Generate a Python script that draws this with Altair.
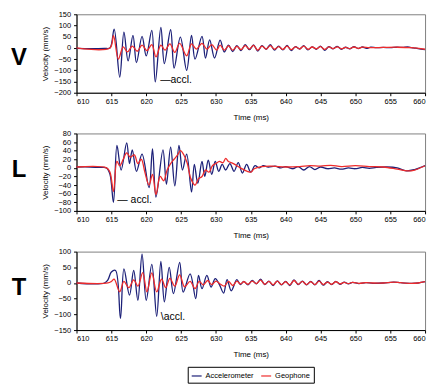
import altair as alt
import pandas as pd

SERIES = ["Accelerometer", "Geophone"]
COLORS = ["#1c2078", "#ee2b2b"]
X_TICKS = [610, 615, 620, 625, 630, 635, 640, 645, 650, 655, 660]

# ---------------- V panel ----------------
v_acc_t = [610, 612, 614, 614.8, 615.4, 616.2, 616.8, 617.4, 618.1, 618.6, 619.4, 620.0, 620.8, 621.3,
           622.1, 622.6, 623.5, 624.0, 624.9, 625.8, 626.5, 627.0, 628.0, 628.5, 629.1, 629.8, 630.6,
           631.2, 631.8, 632.4, 633.0, 633.6, 634.2, 634.8, 635.4, 636.0, 636.6, 637.2, 637.8, 638.4,
           639.0, 639.6, 640.2, 640.8, 641.4, 642.0, 642.6, 643.2, 643.8, 644.4, 645.0, 645.6, 646.2,
           646.8, 647.4, 648.0, 648.6, 649.2, 649.8, 650.4, 651.0, 651.6, 652.2, 653, 654, 655, 656,
           656.8, 657.5, 658.3, 659, 660]
v_acc_v = [-2, -3, -2, 0, 84, -130, 70, -58, 56, -66, 51, -36, 78, -152,
           91, -70, 81, -90, 48, -100, 56, -50, 51, -45, 36, -45, 35,
           -18, 12, -16, 10, -12, 15, -8, 13, -14, 10, -6, 14, -10,
           8, -9, 11, -12, 6, -5, 10, -9, 5, -6, 8, -11, 6,
           -4, 7, -6, 3, -4, 6, -3, 4, -2, 3, 1, 2, 1, 3,
           2, 4, 0, -3, -8]
v_geo_t = [610, 614.8, 615.3, 616.0, 616.7, 617.3, 618.0, 618.7, 619.4, 620.1, 620.8, 621.4, 622.1,
           622.7, 623.4, 624.1, 624.8, 625.8, 626.5, 627.2, 628.0, 628.7, 629.4, 630.1, 630.6,
           631.2, 631.8, 632.4, 633.0, 633.6, 634.2, 634.8, 635.4, 636.0, 636.6, 637.2, 637.8, 638.4,
           639.0, 639.6, 640.2, 640.8, 641.4, 642.0, 642.6, 643.2, 643.8, 644.4, 645.0, 645.6, 646.2,
           646.8, 647.4, 648.0, 648.6, 649.2, 649.8, 650.4, 651.0, 652, 654, 656, 658, 660]
v_geo_v = [0, 0, 55, -50, 5, -18, 8, -15, 12, -12, 15, -40, 12,
           -10, 18, -20, 20, -35, 18, -5, 20, -5, 15, -10, 12,
           -10, 9, -10, 7, -8, 10, -5, 11, -10, 8, -5, 10, -6,
           6, -7, 8, -8, 5, -4, 8, -6, 4, -4, 6, -7, 5,
           -3, 5, -4, 2, -3, 4, -2, 3, 1, 2, 3, 1, -6]

# ---------------- L panel ----------------
l_acc_t = [610, 612, 613.5, 614.3, 614.8, 615.3, 615.8, 616.4, 617.2, 617.6, 618.0, 618.6, 619.4,
           620.4, 620.9, 621.4, 622.4, 622.9, 623.5, 624.1, 624.7, 625.2, 625.8, 626.5, 626.9, 627.4,
           628.0, 628.4, 628.9, 629.4, 629.9, 630.4, 630.9, 631.4, 632.0, 632.6, 633.2, 633.8, 634.4,
           635.0, 635.6, 636.2, 636.8, 637.5, 638.5, 639.3, 640.0, 641.0, 641.8, 642.6, 643.4, 644.2,
           645.0, 646.0, 647.0, 648, 649, 650, 651, 652, 653, 654.5, 656, 657.3, 658.5, 659.5, 660]
l_acc_v = [2, 2, 1, 0, -15, -80, 52, -5, 58, 10, 42, -8, 32,
           -46, 44, -68, 42, -38, 48, -42, 52, -5, 32, -56, 8, -36,
           15, -20, 18, -15, 15, -8, 8, -5, 10, -8, 12, -12, 8,
           -10, 5, 0, 5, 2, 4, 0, 3, -2, 3, -5, 3, -4,
           2, -2, 0, -3, 0, -2, 1, -1, 1, 2, 0, -7, -4, 2, 5]
l_geo_t = [610, 614.3, 614.8, 615.3, 615.8, 616.2, 616.7, 617.2, 617.7, 618.3, 618.8, 619.3, 619.8,
           620.4, 620.9, 621.4, 622.0, 622.5, 623.0, 623.5, 624.0, 624.5, 624.9, 625.4, 625.9, 626.4,
           627.0, 627.5, 628.0, 628.5, 629.0, 629.5, 630.0, 630.5, 631.0, 631.4, 631.8, 632.5, 633.5,
           634.5, 635.0, 635.5, 636.5, 638, 640, 642, 643.5, 645, 646.5, 648, 650, 652, 654, 656,
           657.5, 658.5, 660]
l_geo_v = [2, 0, -10, -55, 15, 5, 20, 35, 25, 30, 10, 20, -10,
           -40, -15, -62, -20, -30, -5, 10, 20, 30, 40, 30, 10, -25,
           -40, -25, -20, -5, -10, 5, 10, 15, 12, 22, 15, 10, 0,
           -8, -10, -2, 3, 4, 2, 3, 5, 4, 6, 3, 5, 3, 2, -3,
           -7, -5, 5]

# ---------------- T panel ----------------
t_acc_t = [610, 614.0, 614.5, 615.0, 615.6, 616.3, 616.8, 617.6, 618.2, 618.8, 619.4, 620.0, 620.8,
           621.5, 622.1, 622.6, 623.3, 623.9, 624.8, 625.3, 626.3, 627.1, 627.5, 628.0, 628.7, 629.3,
           629.9, 630.5, 631.1, 631.6, 632.2, 633.0, 633.5, 634.0, 634.6, 635.2, 635.8, 636.4, 637.0,
           637.6, 638.2, 638.8, 639.4, 640.0, 640.6, 641.2, 641.8, 642.4, 643.0, 643.6, 644.2, 644.8,
           645.4, 646.0, 646.6, 647.2, 647.8, 648.4, 649.0, 649.6, 650.5, 651.5, 652.5, 654, 655.5,
           656.5, 658, 659, 660]
t_acc_v = [0, 0, 10, 35, 40, -113, 45, -39, 40, -55, 92, -55, 59,
           -106, 69, -60, 50, -34, 66, -29, 29, -50, 24, -18, 24, -13,
           14, -5, -32, 11, -25, 11, -5, 5, -6, 8, -3, 12, -5,
           6, -8, 7, -6, 5, -8, 10, -5, 6, -6, 5, -6, 8,
           -7, 4, -5, 5, -4, 3, -3, 2, -2, 1, -1, 0, 3,
           1, -1, 0, 4]
t_geo_t = [610, 614.5, 615.0, 615.4, 616.2, 616.8, 617.5, 618.2, 618.8, 619.5, 620.1, 620.8, 621.5,
           622.2, 622.8, 623.4, 624.1, 624.8, 625.5, 626.3, 627.0, 627.6, 628.2, 628.8, 629.4, 630.0,
           630.6, 631.2, 631.8, 632.4, 633.0, 633.5, 634.0, 634.6, 635.2, 635.8, 636.4, 637.0, 637.6,
           638.2, 638.8, 639.4, 640.0, 640.6, 641.2, 641.8, 642.4, 643.0, 643.6, 644.2, 644.8, 645.4,
           646.0, 646.6, 647.2, 647.8, 648.4, 649.0, 649.6, 650.5, 651.5, 652.5, 654, 655.5, 656.5,
           658, 659, 660]
t_geo_v = [0, 0, 5, 12, -28, 5, -15, 10, -10, 33, -28, 32, -28,
           12, -15, 15, -10, 26, -12, 5, -18, 5, -6, 8, -5, 6,
           -3, -10, 5, -8, 6, -3, 4, -4, 6, -2, 9, -4, 5,
           -6, 6, -5, 4, -6, 8, -4, 5, -5, 4, -5, 6, -5,
           3, -4, 4, -3, 2, -2, 2, -1, 1, 0, 0, 3, 1,
           -1, 0, 4]

V_TICKS = [-200, -150, -100, -50, 0, 50, 100, 150]
L_TICKS = [-100, -80, -60, -40, -20, 0, 20, 40, 60, 80]
T_TICKS = [-150, -100, -50, 0, 50, 100]

FONT = "Liberation Sans"


def panel(letter, letter_y, acc_t, acc_v, geo_t, geo_v, ydom, yticks, note, note_t, note_v, height):
    df = pd.DataFrame({
        "t": acc_t + geo_t,
        "v": acc_v + geo_v,
        "s": [SERIES[0]] * len(acc_t) + [SERIES[1]] * len(geo_t),
    })
    xenc = alt.X("t:Q", scale=alt.Scale(domain=[610, 660], nice=False, zero=False),
                 axis=alt.Axis(values=X_TICKS, title="Time (ms)", format="d", labelOverlap=False))
    yenc = alt.Y("v:Q", scale=alt.Scale(domain=ydom, nice=False, zero=False),
                 axis=alt.Axis(values=yticks, title="Velocity (mm/s)", format="d", labelOverlap=False))
    lines = alt.Chart(df).mark_line(interpolate="catmull-rom", strokeWidth=1.3).encode(
        x=xenc, y=yenc,
        color=alt.Color("s:N", scale=alt.Scale(domain=SERIES, range=COLORS),
                        legend=alt.Legend(orient="none", legendX=112, legendY=355,
                                          direction="horizontal", title=None,
                                          strokeColor="black", padding=3,
                                          symbolType="stroke", symbolStrokeWidth=1.2,
                                          symbolSize=100, labelFontSize=7.5,
                                          labelFont=FONT, columnPadding=4,
                                          labelOffset=3, symbolOffset=0)),
    )
    ann = alt.Chart(pd.DataFrame({"t": [note_t], "v": [note_v], "txt": [note]})).mark_text(
        align="left", baseline="middle", fontSize=10.5, font=FONT, color="black"
    ).encode(x=xenc, y=yenc, text="txt:N")
    lab = alt.Chart(pd.DataFrame({"txt": [letter]})).mark_text(
        align="center", baseline="middle", fontSize=24, fontWeight="bold", font=FONT, color="black"
    ).encode(x=alt.value(-58), y=alt.value(letter_y), text="txt:N")
    return alt.layer(lines, ann, lab).properties(width=351, height=height)


v_panel = panel("V", 44, v_acc_t, v_acc_v, v_geo_t, v_geo_v, [-200, 150], V_TICKS,
                "\u2014accl.", 622.0, -142, 79)
l_panel = panel("L", 37, l_acc_t, l_acc_v, l_geo_t, l_geo_v, [-100, 80], L_TICKS,
                "\u2014 accl.", 615.85, -75, 78)
t_panel = panel("T", 37, t_acc_t, t_acc_v, t_geo_t, t_geo_v, [-150, 100], T_TICKS,
                "\\accl.", 622.1, -108, 79)

chart = alt.vconcat(v_panel, l_panel, t_panel, spacing=41, bounds="flush").properties(
    padding={"left": 2, "top": 0, "right": 5, "bottom": 0}
).configure_view(
    stroke="#808080", strokeWidth=1
).configure_axis(
    labelFont=FONT, titleFont=FONT, labelFontSize=7.5, titleFontSize=8,
    titleFontWeight="normal", labelColor="black", titleColor="black",
    tickColor="black", domainColor="black", tickSize=3, labelPadding=2, grid=False
).configure_axisX(
    titlePadding=8
).configure_axisY(
    labelPadding=3, titlePadding=4
)

chart.save("out.html", embed_options={"renderer": "svg", "actions": False})
